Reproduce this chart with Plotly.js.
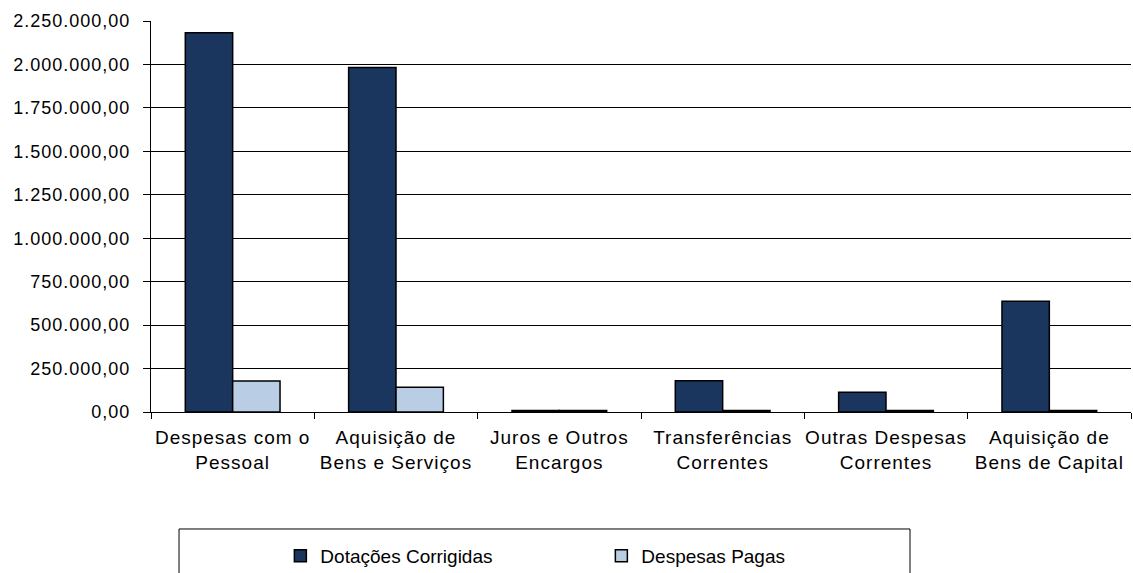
<!DOCTYPE html>
<html>
<head>
<meta charset="utf-8">
<script src="https://cdn.plot.ly/plotly-3.0.1.min.js"></script>
<style>
  html, body { margin: 0; padding: 0; background: #ffffff; }
  #chart { width: 1133px; height: 573px; }
  #chart .xtick text { letter-spacing: 1px; }
  #chart .ytick text { letter-spacing: 1px; }
</style>
</head>
<body>
<div id="chart"></div>
<script>
const categories = [
  "Despesas com o<br>Pessoal",
  "Aquisição de<br>Bens e Serviços",
  "Juros e Outros<br>Encargos",
  "Transferências<br>Correntes",
  "Outras Despesas<br>Correntes",
  "Aquisição de<br>Bens de Capital"
];
const dotacoesCorrigidas = [2183000, 1983000, 8000, 180000, 113000, 638000];
const despesasPagas = [178000, 142000, 8000, 8000, 8000, 8000];
const seriesNames = ["Dotações Corrigidas", "Despesas Pagas"];

const FONT = "'Liberation Sans', Arial, sans-serif";

const traces = [
  {
    type: "bar",
    name: seriesNames[0],
    x: categories,
    y: dotacoesCorrigidas,
    marker: { color: "#1a365e", line: { color: "#000000", width: 1.5 } },
    hoverinfo: "x+y"
  },
  {
    type: "bar",
    name: seriesNames[1],
    x: categories,
    y: despesasPagas,
    marker: { color: "#b9cde5", line: { color: "#000000", width: 1.5 } },
    hoverinfo: "x+y"
  }
];

const layout = {
  width: 1133,
  height: 573,
  margin: { l: 151, r: 2, t: 21, b: 161, pad: 0, autoexpand: false },
  paper_bgcolor: "#ffffff",
  plot_bgcolor: "#ffffff",
  separators: ",.",
  barmode: "group",
  bargap: 0.42,
  bargroupgap: 0,
  font: { family: FONT, size: 18, color: "#000000" },
  xaxis: {
    type: "category",
    tickson: "boundaries",
    ticks: "outside",
    ticklen: 6,
    tickwidth: 1,
    tickcolor: "#000000",
    showline: true,
    linecolor: "#000000",
    linewidth: 1,
    showgrid: false,
    automargin: false,
    tickfont: { family: FONT, size: 19, color: "#000000" },
    ticklabelstandoff: 8
  },
  yaxis: {
    range: [0, 2250000],
    tick0: 0,
    dtick: 250000,
    tickformat: ",.2f",
    showgrid: true,
    gridcolor: "#000000",
    gridwidth: 1,
    zeroline: false,
    showline: true,
    linecolor: "#000000",
    linewidth: 1,
    ticks: "outside",
    ticklen: 7,
    tickwidth: 1,
    tickcolor: "#000000",
    automargin: false,
    tickfont: { family: FONT, size: 18, color: "#000000" },
    ticklabelstandoff: 9
  },
  showlegend: true,
  legend: {
    orientation: "h",
    x: 0.132,
    xanchor: "left",
    y: -0.368,
    yanchor: "middle",
    bgcolor: "rgba(0,0,0,0)",
    borderwidth: 0,
    entrywidth: 276,
    entrywidthmode: "pixels",
    font: { family: FONT, size: 19, color: "#000000" },
    traceorder: "normal"
  },
  shapes: [
    {
      type: "rect",
      xref: "paper",
      yref: "paper",
      x0: 0.0286,
      x1: 0.7745,
      y0: -0.2992,
      y1: -0.48,
      line: { color: "#000000", width: 1 },
      fillcolor: "rgba(0,0,0,0)"
    }
  ]
};

Plotly.newPlot("chart", traces, layout, { displayModeBar: false, responsive: false });
</script>
</body>
</html>
